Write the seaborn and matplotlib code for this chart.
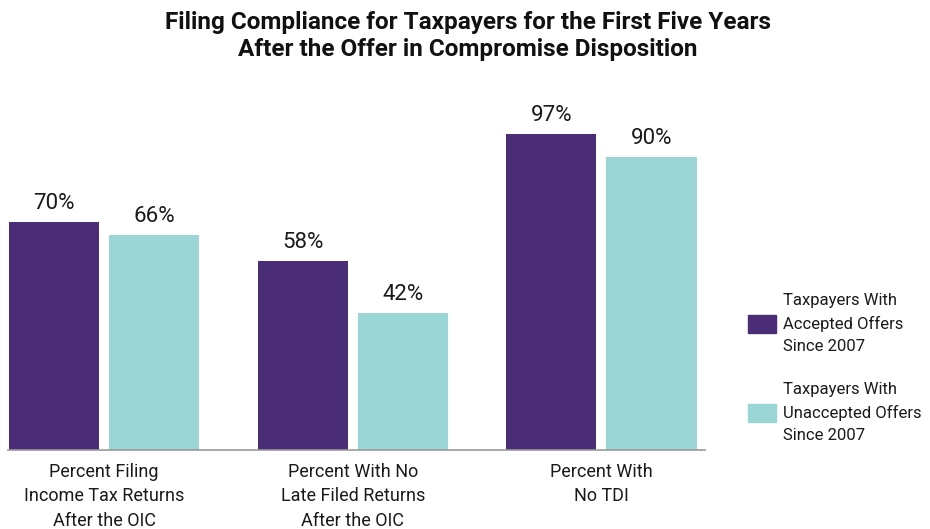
import pandas as pd
import numpy as np
import matplotlib.pyplot as plt
import seaborn as sns

# Data
categories = ['Percent Filing\nIncome Tax Returns\nAfter the OIC',
              'Percent With No\nLate Filed Returns\nAfter the OIC',
              'Percent With\nNo TDI']
groups = ['Taxpayers With\nAccepted Offers\nSince 2007',
          'Taxpayers With\nUnaccepted Offers\nSince 2007']
accepted = [70, 58, 97]
unaccepted = [66, 42, 90]
colors = ['#4B2C77', '#9AD6D6']

df = pd.DataFrame({
    'category': categories * 2,
    'group': [groups[0]] * 3 + [groups[1]] * 3,
    'value': accepted + unaccepted,
})

sns.set_style('white')
plt.rcParams['font.family'] = ['Roboto', 'DejaVu Sans']

W, H = 930, 529
fig = plt.figure(figsize=(W / 100, H / 100), dpi=100)
ax = fig.add_axes([8 / W, (H - 450) / H, 697 / W, (450 - 124.3) / H])

sns.barplot(data=df, x='category', y='value', hue='group', palette=colors,
            width=0.805, gap=0.1, saturation=1, linewidth=0, ax=ax, legend=False)

ax.set_xlim(-0.386, 2.4165)
ax.set_ylim(0, 100)
for cont in ax.containers:
    ax.bar_label(cont, labels=[f'{v:.0f}%' for v in cont.datavalues],
                 padding=6, fontsize=16, color='#1a1a1a')

sns.despine(ax=ax, left=True)
ax.spines['bottom'].set_color('#999999')
ax.spines['bottom'].set_linewidth(1.2)
ax.set_yticks([])
ax.set_xlabel('')
ax.set_ylabel('')
ax.tick_params(axis='x', length=0, pad=9.5, labelsize=13, labelcolor='#1a1a1a')
for lbl in ax.get_xticklabels():
    lbl.set_linespacing(1.45)

fig.text(468 / W, 1 - 36 / H,
         'Filing Compliance for Taxpayers for the First Five Years\nAfter the Offer in Compromise Disposition',
         ha='center', va='center', fontsize=17.5, fontweight='bold',
         linespacing=1.2, color='#111111')

handles = [plt.Rectangle((0, 0), 1, 1, color=c) for c in colors]
leg = fig.legend(handles, groups, loc='center left', bbox_to_anchor=(733 / W, 1 - 368 / H),
                 frameon=False, fontsize=12, handlelength=1.65, handleheight=1.3,
                 labelspacing=1.7, handletextpad=0.45, labelcolor='#1a1a1a')
for t in leg.get_texts():
    t.set_linespacing(1.6)

fig.savefig('out.png', dpi=100)
